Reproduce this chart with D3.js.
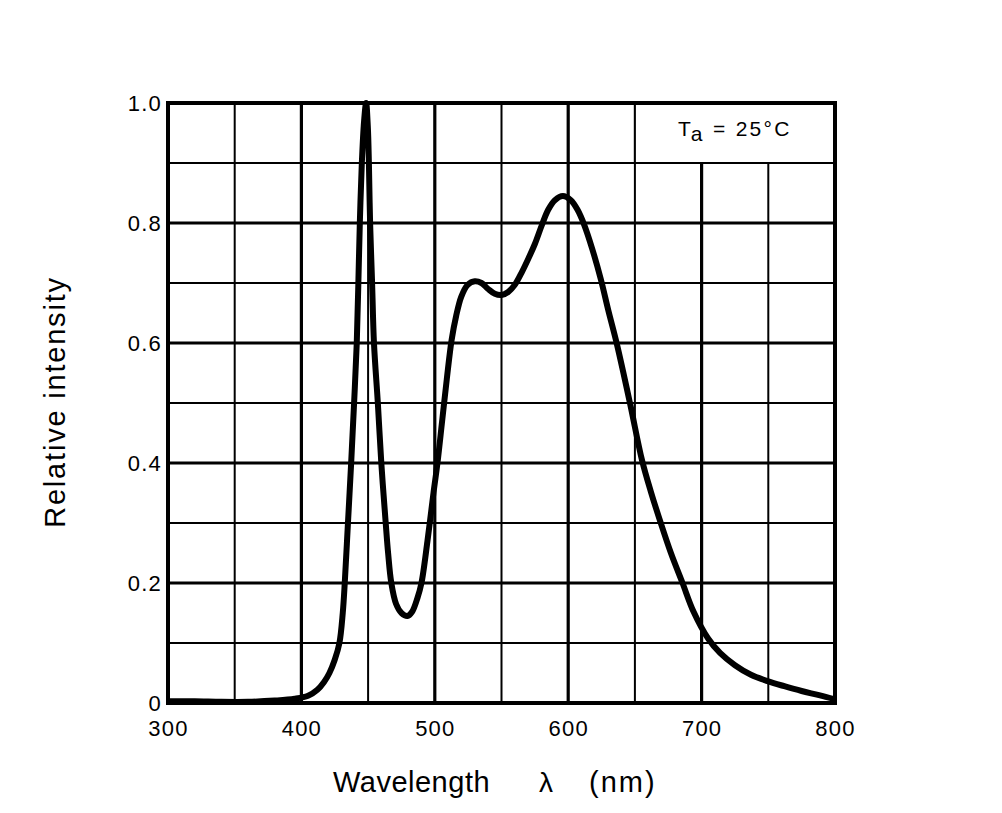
<!DOCTYPE html>
<html><head><meta charset="utf-8">
<script src="https://cdn.jsdelivr.net/npm/d3@7"></script>
<style>
html,body{margin:0;padding:0;background:#fff;}
svg{display:block;font-family:"Liberation Sans",Arial,sans-serif;}
</style></head>
<body>
<svg id="chart" width="1002" height="813"></svg>
<script>
// Data
const wavelengths = [300,320,340,360,380,395,405,412,417,421,425,428.5,431,432.5,434.9,437.3,439.5,441.5,442.7,443.8,445.3,447,448.5,449.8,450.6,451.5,453,454.4,457.3,459.9,463.2,465,467.4,471,475,479.5,483,487,490,494.5,499,502,505.5,509,512.6,516,519.8,524.6,530,535,540,545,550,555,560,565,570,575,580,585,590,596,602,607,612,618,624.6,630,636.3,646.3,655.3,662,669.4,677,685.7,694,705,714,725,737,750,762,775,788,800];
const intensity   = [0.003,0.003,0.002,0.002,0.004,0.007,0.012,0.022,0.035,0.05,0.072,0.10,0.15,0.2,0.3,0.4,0.5,0.6,0.7,0.8,0.9,0.97,1.0,0.96,0.9,0.8,0.7,0.6,0.5,0.4,0.3,0.25,0.2,0.165,0.15,0.145,0.152,0.175,0.2,0.27,0.35,0.4,0.47,0.54,0.605,0.645,0.677,0.697,0.703,0.70,0.69,0.682,0.68,0.685,0.697,0.717,0.74,0.765,0.795,0.822,0.838,0.845,0.838,0.822,0.797,0.757,0.705,0.655,0.60,0.50,0.405,0.352,0.30,0.25,0.20,0.152,0.107,0.083,0.063,0.047,0.036,0.028,0.020,0.013,0.006];
const xTicks = [300,400,500,600,700,800];
const xTickLabels = ["300","400","500","600","700","800"];
const yTicks = [0,0.2,0.4,0.6,0.8,1.0];
const yTickLabels = ["0","0.2","0.4","0.6","0.8","1.0"];
const xGrid = [350,400,450,500,550,600,650,700,750];
const yGrid = [0.1,0.2,0.3,0.4,0.5,0.6,0.7,0.8,0.9];
const legendBox = {x0:650, x1:800, y0:0.9, y1:1.0};

const svg = d3.select("#chart");
const x = d3.scaleLinear().domain([300,800]).range([168,835]);
const y = d3.scaleLinear().domain([0,1]).range([703,103]);

const g = svg.append("g");

// vertical grid lines (those inside the legend box stop at its bottom)
g.selectAll("line.vg").data(xGrid).join("line")
  .attr("x1", d=>x(d)).attr("x2", d=>x(d))
  .attr("y1", y(0))
  .attr("y2", d=> (d>legendBox.x0 && d<legendBox.x1) ? y(legendBox.y0) : y(1))
  .attr("stroke","#000")
  .attr("stroke-width", d=> d%100===0 ? 3.2 : 2);

// horizontal grid lines
g.selectAll("line.hg").data(yGrid).join("line")
  .attr("x1", x(300)).attr("x2", x(800))
  .attr("y1", d=>y(d)).attr("y2", d=>y(d))
  .attr("stroke","#000")
  .attr("stroke-width", (d,i)=> (i%2===1) ? 3.2 : 2);

// legend box
g.append("rect")
  .attr("x", x(legendBox.x0)).attr("y", y(legendBox.y1))
  .attr("width", x(legendBox.x1)-x(legendBox.x0))
  .attr("height", y(legendBox.y0)-y(legendBox.y1))
  .attr("fill","#fff").attr("stroke","#000").attr("stroke-width",2);

const lt = g.append("text")
  .attr("x", 678).attr("y", 136)
  .attr("font-size", 21).attr("letter-spacing", 2.3).attr("fill","#000");
lt.append("tspan").text("T");
lt.append("tspan").attr("dy", 5).text("a");
lt.append("tspan").attr("dy", -5).text(" = 25°C");

// curve
const line = d3.line()
  .x((d,i)=>x(wavelengths[i]))
  .y((d,i)=>y(intensity[i]))
  .curve(d3.curveCatmullRom.alpha(0.5));
g.append("path")
  .attr("d", line(wavelengths))
  .attr("fill","none").attr("stroke","#000")
  .attr("stroke-width",6).attr("stroke-linejoin","round").attr("stroke-linecap","butt");

// frame
g.append("rect")
  .attr("x", x(300)).attr("y", y(1))
  .attr("width", x(800)-x(300)).attr("height", y(0)-y(1))
  .attr("fill","none").attr("stroke","#000").attr("stroke-width",4);

// axes
const xAxis = d3.axisBottom(x).tickValues(xTicks)
  .tickFormat((d,i)=>xTickLabels[i]).tickSize(0).tickPadding(17);
const gx = svg.append("g").attr("transform",`translate(0,${y(0)})`).call(xAxis);
gx.select(".domain").remove();
gx.selectAll("text").attr("font-size",22).attr("letter-spacing",1.2)
  .attr("font-family","Liberation Sans, Arial, sans-serif").attr("fill","#000");

const yAxis = d3.axisLeft(y).tickValues(yTicks)
  .tickFormat((d,i)=>yTickLabels[i]).tickSize(0).tickPadding(6);
const gy = svg.append("g").attr("transform",`translate(${x(300)},0)`).call(yAxis);
gy.select(".domain").remove();
gy.selectAll("text").attr("font-size",22).attr("letter-spacing",1.2)
  .attr("font-family","Liberation Sans, Arial, sans-serif").attr("fill","#000");

// axis titles
svg.append("text")
  .attr("transform","translate(65,402) rotate(-90)")
  .attr("text-anchor","middle")
  .attr("font-size",29).attr("letter-spacing",1.8).attr("fill","#000")
  .text("Relative intensity");

svg.append("text").attr("x",333).attr("y",792)
  .attr("font-size",29).attr("letter-spacing",0.5).attr("fill","#000").text("Wavelength");
svg.append("text").attr("x",546).attr("y",792).attr("text-anchor","middle")
  .attr("font-size",28).attr("fill","#000").text("λ");
svg.append("text").attr("x",589).attr("y",792)
  .attr("font-size",29).attr("letter-spacing",2).attr("fill","#000").text("(nm)");
</script>
</body></html>
